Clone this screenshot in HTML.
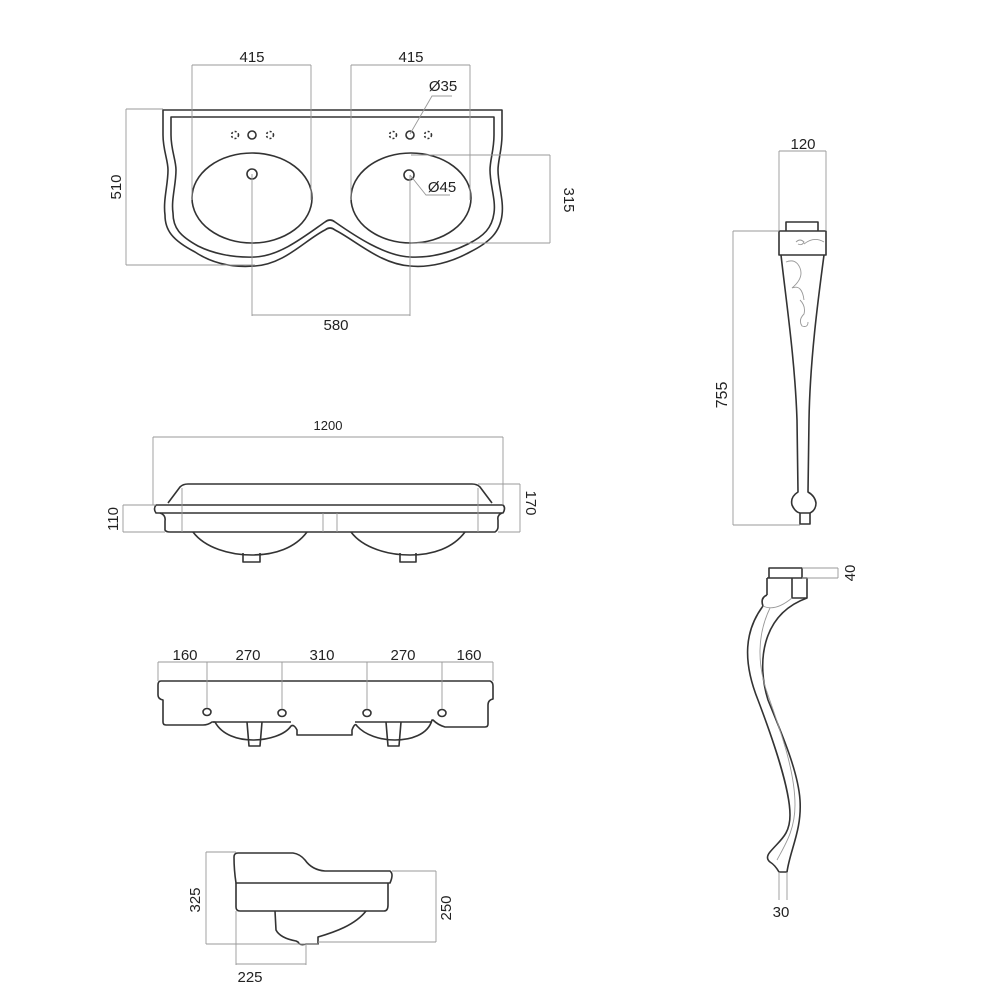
<!DOCTYPE html>
<html><head><meta charset="utf-8"><style>
html,body{margin:0;padding:0;background:#fff;}
svg{display:block}
text{font-family:"Liberation Sans",sans-serif;font-size:15px;fill:#222;}
.o{fill:none;stroke:#333;stroke-width:1.6;stroke-linejoin:round}
.d{fill:none;stroke:#999;stroke-width:0.9}
</style></head><body>
<svg width="990" height="990" viewBox="0 0 990 990" xmlns="http://www.w3.org/2000/svg">
<!-- TOP VIEW -->
<path class="o" d="M163,110 L502,110 L502,135 C502,150 498,160 498,170 C498,185 504,200 502,215 C500,232 490,242 470,252 C452,262 430,268 410,266 C380,264 355,240 335,230 Q330,226 325,230 C305,240 285,264 255,266 C230,268 210,262 195,252 C172,240 165,230 165,215 C163,200 168,185 168,170 C168,160 163,150 163,135 Z"/>
<path class="o" d="M171,117 L494,117 L494,135 C494,150 490,160 490,170 C490,185 496,200 494,213 C492,228 484,236 468,244 C450,253 430,258 410,257 C385,256 355,236 335,222 Q330,218 325,222 C305,236 280,256 255,257 C232,258 212,253 198,246 C180,236 173,228 173,213 C171,200 176,185 176,170 C176,160 171,150 171,135 Z"/>
<ellipse class="o" cx="252" cy="198" rx="60" ry="45"/>
<ellipse class="o" cx="411" cy="198" rx="60" ry="45"/>
<circle class="o" cx="252" cy="174" r="5"/>
<circle class="o" cx="409" cy="175" r="5"/>
<circle class="o" cx="252" cy="135" r="4"/>
<circle class="o" cx="410" cy="135" r="4"/>
<g class="o" stroke-dasharray="2,2" stroke-width="1.2">
<circle cx="235" cy="135" r="3.5"/><circle cx="270" cy="135" r="3.5"/>
<circle cx="393" cy="135" r="3.5"/><circle cx="428" cy="135" r="3.5"/></g>
<g class="d">
<path d="M192,65 L311,65 M192,65 L192,200 M311,65 L311,200"/>
<path d="M351,65 L470,65 M351,65 L351,200 M470,65 L470,200"/>
<path d="M126,109 L126,265 M126,109 L163,109 M126,265 L255,265"/>
<path d="M550,155 L550,243 M411,155 L550,155 M411,243 L550,243"/>
<path d="M252,174 L252,316 M410,175 L410,316 M252,315 L410,315"/>
<path d="M410,134 L432,96 L452,96"/>
<path d="M410,175 L426,195 L450,195"/>
</g>
<text x="252" y="62" text-anchor="middle">415</text>
<text x="411" y="62" text-anchor="middle">415</text>
<text x="443" y="91" text-anchor="middle">Ø35</text>
<text x="442" y="192" text-anchor="middle">Ø45</text>
<text x="336" y="330" text-anchor="middle">580</text>
<text transform="translate(121,187) rotate(-90)" text-anchor="middle">510</text>
<text transform="translate(564,200) rotate(90)" text-anchor="middle">315</text>

<!-- FRONT VIEW -->
<path class="o" d="M168,503 L180,487 Q183,484 188,484 L472,484 Q477,484 480,487 L492,503"/>
<path class="o" d="M156,505 L503,505 Q506,508 503,513 L156,513 Q153,509 156,505 Z"/>
<path class="o" d="M160,513 Q166,515 165,521 L165,530 Q166,532 170,532 L495,532 Q498,530 498,527 L498,520 Q497,515 502,513"/>
<path class="d" d="M182,488 L182,532 M478,488 L478,532 M323,513 L323,532 M337,513 L337,532"/>
<path class="o" d="M193,532 C205,548 230,555 252,555 C275,555 295,548 307,532"/>
<path class="o" d="M351,532 C363,548 388,555 410,555 C433,555 453,548 465,532"/>
<path class="o" d="M243,553 L243,562 L260,562 L260,553 M400,553 L400,562 L416,562 L416,553"/>
<g class="d">
<path d="M153,437 L503,437 M153,437 L153,505 M503,437 L503,505"/>
<path d="M123,505 L123,532 M123,505 L156,505 M123,532 L165,532"/>
<path d="M520,484 L520,532 M478,484 L520,484 M498,532 L520,532"/>
</g>
<text x="328" y="430" text-anchor="middle" style="font-size:13px">1200</text>
<text transform="translate(118,519) rotate(-90)" text-anchor="middle">110</text>
<text transform="translate(526,503) rotate(90)" text-anchor="middle">170</text>

<!-- HOLE SPACING VIEW -->
<path class="o" d="M161,681 L490,681 Q493,682 493,686 L493,699 Q488,700 488,705 L488,724 Q488,727 485,727 L445,727 Q438,725 433,720 L432,720 C428,735 410,740 395,740 C380,740 365,735 357,726 Q355,722 352,730 L352,735 L297,735 L297,730 Q294,724 291,726 C285,735 268,740 253,740 C238,740 222,735 215,722 L212,722 Q208,725 203,725 L166,725 Q163,725 163,722 L163,700 Q158,699 158,695 L158,685 Q158,681 161,681 Z"/>
<path class="o" d="M213,722 L291,722 M355,722 L432,722"/>
<path class="o" d="M247,722 L249,746 L260,746 L262,722 M386,722 L388,746 L399,746 L401,722"/>
<ellipse class="o" cx="207" cy="712" rx="4" ry="3.5"/>
<ellipse class="o" cx="282" cy="713" rx="4" ry="3.5"/>
<ellipse class="o" cx="367" cy="713" rx="4" ry="3.5"/>
<ellipse class="o" cx="442" cy="713" rx="4" ry="3.5"/>
<g class="d">
<path d="M158,662 L493,662 M158,662 L158,681 M493,662 L493,681"/>
<path d="M207,662 L207,708 M282,662 L282,709 M367,662 L367,709 M442,662 L442,709"/>
</g>
<text x="185" y="660" text-anchor="middle">160</text>
<text x="248" y="660" text-anchor="middle">270</text>
<text x="322" y="660" text-anchor="middle">310</text>
<text x="403" y="660" text-anchor="middle">270</text>
<text x="469" y="660" text-anchor="middle">160</text>

<!-- SIDE VIEW -->
<path class="o" d="M238,853 L293,853 Q300,854 305,860 Q312,870 325,871 L390,871 Q394,874 390,883 L236,883 Q234,870 234,857 Q234,853 238,853 Z"/>
<path class="o" d="M236,883 L236,907 Q236,911 240,911 L384,911 Q388,911 388,905 L388,883"/>
<path class="o" d="M275,911 L276,930 Q280,938 296,941 L298,942 Q300,946 306,944 L318,944 L318,937 C335,932 355,925 366,911"/>
<g class="d">
<path d="M206,852 L206,944 M206,852 L236,852 M206,944 L318,944"/>
<path d="M436,871 L436,942 M392,871 L436,871 M318,942 L436,942"/>
<path d="M236,911 L236,965 M306,944 L306,965 M236,964 L306,964"/>
</g>
<text transform="translate(200,900) rotate(-90)" text-anchor="middle">325</text>
<text transform="translate(451,908) rotate(-90)" text-anchor="middle">250</text>
<text x="250" y="982" text-anchor="middle">225</text>

<!-- FRONT LEG -->
<path class="o" d="M786,231 L786,222 L818,222 L818,231"/>
<path class="o" d="M779,231 L826,231 L826,255 L779,255 Z"/>
<path class="o" d="M781,255 C786,300 795,360 797,420 L798,492 Q790,497 792,505 Q795,512 800,513 L810,513 Q816,510 816,503 Q815,496 808,492 L809,420 C810,360 818,300 824,255"/>
<path class="o" d="M800,513 L800,524 L810,524 L810,513"/>
<path class="d" stroke="#888" d="M796,242 q4,-4 8,0 q-2,4 -6,2 M804,244 q10,-8 20,-2 M786,262 q10,-4 14,6 q4,10 -8,20 q10,-4 12,12 M800,300 q6,6 4,14 q-6,6 -2,12 q6,2 6,-4"/>
<g class="d">
<path d="M779,151 L826,151 M779,151 L779,231 M826,151 L826,231"/>
<path d="M733,231 L733,525 M733,231 L779,231 M733,525 L800,525"/>
</g>
<text x="803" y="149" text-anchor="middle">120</text>
<text transform="translate(727,395) rotate(-90)" text-anchor="middle" style="font-size:16px">755</text>

<!-- SIDE LEG -->
<path class="o" d="M769,578 L769,568 L802,568 L802,578"/>
<path class="o" d="M767,578 L807,578 L807,598 L792,598 L792,578 M767,578 L767,595"/>
<path class="o" d="M767,595 Q760,598 763,606 C745,630 742,660 758,700 C775,745 790,790 790,815 C790,835 780,840 770,852 Q765,858 770,862 Q775,865 779,872 L787,872 C790,850 802,830 800,800 C798,770 780,730 768,700 C757,665 760,615 807,598"/>
<path class="d" stroke="#888" d="M770,608 C757,635 757,665 768,695 C780,730 795,770 795,805 C795,830 785,845 777,860"/>
<path class="d" d="M763,606 Q775,612 792,598"/>
<g class="d">
<path d="M802,568 L838,568 M802,578 L838,578 M838,568 L838,578"/>
<path d="M779,872 L779,900 M787,872 L787,900"/>
</g>
<text transform="translate(855,573) rotate(-90)" text-anchor="middle" style="font-size:15px">40</text>
<text x="781" y="917" text-anchor="middle" style="font-size:15px">30</text>
</svg>
</body></html>
